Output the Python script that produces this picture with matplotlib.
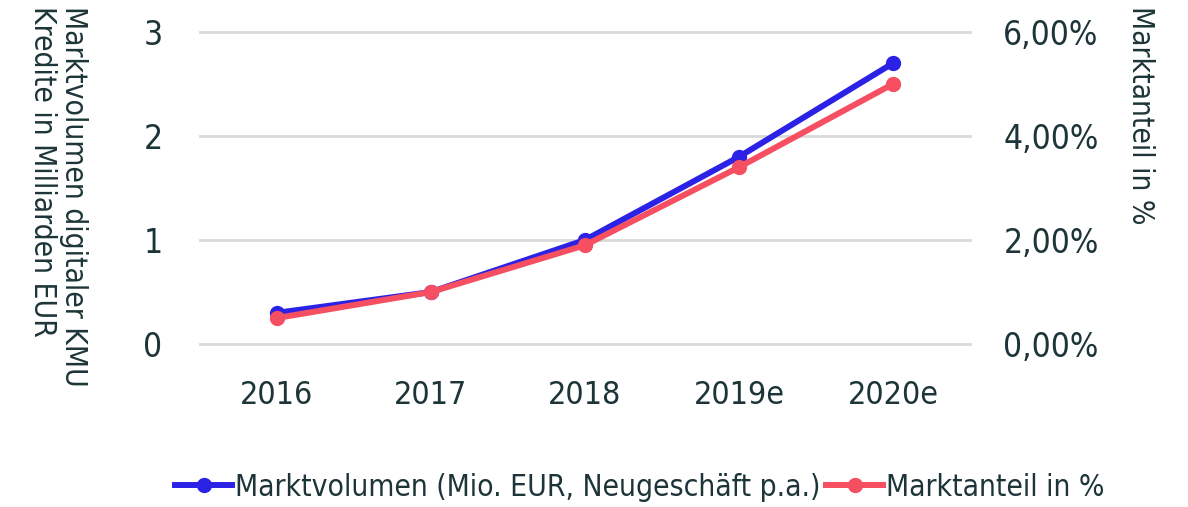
import matplotlib
matplotlib.use("Agg")
import matplotlib.pyplot as plt
from matplotlib.ticker import FuncFormatter

plt.rcParams['font.family'] = ['DejaVu Sans']
plt.rcParams['font.stretch'] = 'condensed'

years = ["2016", "2017", "2018", "2019e", "2020e"]
volume = [0.3, 0.5, 1.0, 1.8, 2.7]       # Mrd. EUR, left axis
share = [0.5, 1.0, 1.9, 3.4, 5.0]        # percent, right axis

TEXT = "#1d3538"
BLUE = "#2b22e6"
RED = "#f54f61"
GRID = "#d9d9d9"

fig = plt.figure(figsize=(11.88, 5.07), dpi=100)
ax = fig.add_axes([200 / 1188, 1 - 344 / 507, 770 / 1188, 312 / 507])
ax2 = ax.twinx()

x = list(range(len(years)))
l1, = ax.plot(x, volume, color=BLUE, lw=4.3, marker="o", ms=10, zorder=3,
              label="Marktvolumen (Mio. EUR, Neugeschäft p.a.)")
l2, = ax2.plot(x, share, color=RED, lw=4.3, marker="o", ms=10, zorder=3,
               label="Marktanteil in %")

ax.set_xlim(-0.5, len(years) - 0.5)
ax.set_ylim(0, 3)
ax2.set_ylim(0, 6)
ax.set_yticks([0, 1, 2, 3])
ax2.set_yticks([0, 2, 4, 6])
ax2.yaxis.set_major_formatter(FuncFormatter(lambda v, p: f"{v:.2f}%".replace(".", ",")))
ax.set_xticks(x)
ax.set_xticklabels(years)

ax.grid(axis="y", color=GRID, lw=2)
ax.set_axisbelow(True)
for gl in ax.get_ygridlines():
    gl.set_clip_on(False)
for a in (ax, ax2):
    for s in a.spines.values():
        s.set_visible(False)
ax.tick_params(axis="both", length=0, labelsize=24, labelcolor=TEXT)
ax.tick_params(axis="y", pad=27)
ax.tick_params(axis="x", labelsize=23, pad=26)
ax2.tick_params(axis="y", length=0, labelsize=24, labelcolor=TEXT, pad=24)

fig.text(58 / 1188, 1 - 6 / 507, "Marktvolumen digitaler KMU\nKredite in Milliarden EUR",
         rotation=270, ha="center", va="top", fontsize=21.5, color=TEXT,
         multialignment="left", linespacing=1.1)
fig.text(1140 / 1188, 1 - 6 / 507, "Marktanteil in %", rotation=270, ha="center",
         va="top", fontsize=21.5, color=TEXT)

fig.legend(handles=[l1, l2], loc="center", bbox_to_anchor=(640 / 1188, 1 - 487 / 507),
           ncol=2, frameon=False, fontsize=21.5, labelcolor=TEXT, handlelength=1.9,
           handletextpad=0.1, columnspacing=0.2, borderpad=0)

fig.savefig("out.png", dpi=100)
